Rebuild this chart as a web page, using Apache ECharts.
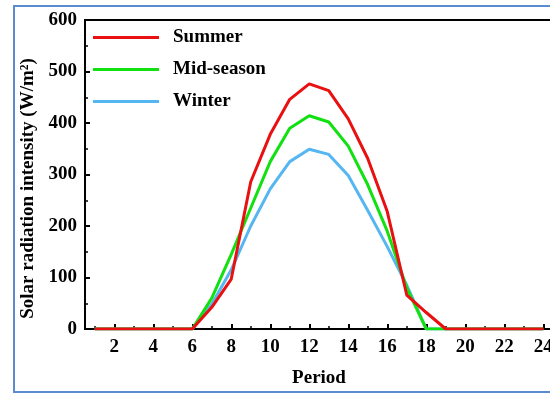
<!DOCTYPE html>
<html>
<head>
<meta charset="utf-8">
<script src="https://cdn.jsdelivr.net/npm/echarts@6/dist/echarts.min.js"></script>
<style>
  html, body { margin: 0; padding: 0; background: #fff; }
  #chart { width: 550px; height: 394px; }
</style>
</head>
<body>
<div id="chart"></div>
<script>
// hours of the day
const periods = [1, 2, 3, 4, 5, 6, 7, 8, 9, 10, 11, 12, 13, 14, 15, 16, 17, 18, 19, 20, 21, 22, 23, 24];
const summer = [0, 0, 0, 0, 0, 0, 42, 97, 286, 378, 446, 476, 463, 408, 331, 228, 66, 32, 0, 0, 0, 0, 0, 0];
const midSeason = [0, 0, 0, 0, 0, 0, 60, 145, 235, 325, 390, 414, 402, 355, 280, 190, 80, 0, 0, 0, 0, 0, 0, 0];
const winter = [0, 0, 0, 0, 0, 0, 48, 115, 200, 272, 325, 349, 339, 298, 230, 160, 85, 0, 0, 0, 0, 0, 0, 0];
const xMajor = [2, 4, 6, 8, 10, 12, 14, 16, 18, 20, 22, 24];
const xMinor = [1, 3, 5, 7, 9, 11, 13, 15, 17, 19, 21, 23];

const font = "'Liberation Serif', 'Times New Roman', serif";
const chart = echarts.init(document.getElementById("chart"));

const pairs = (vals) => periods.map((p, i) => [p, vals[i]]);

const option = {
  backgroundColor: "#fff",
  animation: false,
  graphic: [
    {
      type: "rect",
      shape: { x: 14, y: 6, width: 600, height: 386 },
      style: { fill: "none", stroke: "#5b8bd0", lineWidth: 2 },
      z: 100,
    },
  ],
  grid: {
    left: 85,
    top: 20,
    right: -3,
    bottom: 65,
    outerBoundsMode: "none",
    containLabel: false,
    show: true,
    borderColor: "#000",
    borderWidth: 2,
  },
  legend: {
    left: 88,
    top: 23,
    orient: "vertical",
    icon: "rect",
    itemWidth: 66,
    itemHeight: 3,
    itemGap: 13,
    data: ["Summer", "Mid-season", "Winter"],
    textStyle: { fontFamily: font, fontWeight: "bold", fontSize: 19, color: "#000", padding: [0, 0, 0, 9] },
  },
  xAxis: [
    {
      type: "value",
      min: 0.5,
      max: 24.5,
      name: "Period",
      nameLocation: "middle",
      nameGap: 40,
      nameTextStyle: { fontFamily: font, fontWeight: "bold", fontSize: 19, color: "#000" },
      axisLine: { onZero: false, lineStyle: { color: "#000", width: 2 } },
      axisTick: { inside: true, length: 5, lineStyle: { color: "#000", width: 2 }, customValues: xMajor },
      axisLabel: { fontFamily: font, fontWeight: "bold", fontSize: 19, color: "#000", margin: 9, customValues: xMajor },
      splitLine: { show: false },
    },
    {
      type: "value",
      min: 0.5,
      max: 24.5,
      position: "bottom",
      axisLine: { show: false },
      axisTick: { inside: true, length: 3, lineStyle: { color: "#000", width: 1.5 }, customValues: xMinor },
      axisLabel: { show: false },
      splitLine: { show: false },
    },
  ],
  yAxis: {
    type: "value",
    min: 0,
    max: 600,
    interval: 100,
    name: "Solar radiation intensity (W/m²)",
    nameLocation: "middle",
    nameGap: 44,
    nameTextStyle: { fontFamily: font, fontWeight: "bold", fontSize: 19, color: "#000", padding: [0, 28, 0, 0] },
    axisLine: { show: true, lineStyle: { color: "#000", width: 2 } },
    axisTick: { inside: true, length: 5, lineStyle: { color: "#000", width: 2 } },
    minorTick: { show: true, splitNumber: 2, length: 3, lineStyle: { color: "#000", width: 1.5 } },
    axisLabel: { fontFamily: font, fontWeight: "bold", fontSize: 19, color: "#000", margin: 8 },
    splitLine: { show: false },
  },
  series: [
    {
      name: "Winter",
      type: "line",
      data: pairs(winter),
      showSymbol: false,
      lineStyle: { color: "#55b6f2", width: 3 },
      itemStyle: { color: "#55b6f2" },
    },
    {
      name: "Mid-season",
      type: "line",
      data: pairs(midSeason),
      showSymbol: false,
      lineStyle: { color: "#11e011", width: 3 },
      itemStyle: { color: "#11e011" },
    },
    {
      name: "Summer",
      type: "line",
      data: pairs(summer),
      showSymbol: false,
      lineStyle: { color: "#e81010", width: 3 },
      itemStyle: { color: "#e81010" },
    },
  ],
};
chart.setOption(option);
</script>
</body>
</html>
